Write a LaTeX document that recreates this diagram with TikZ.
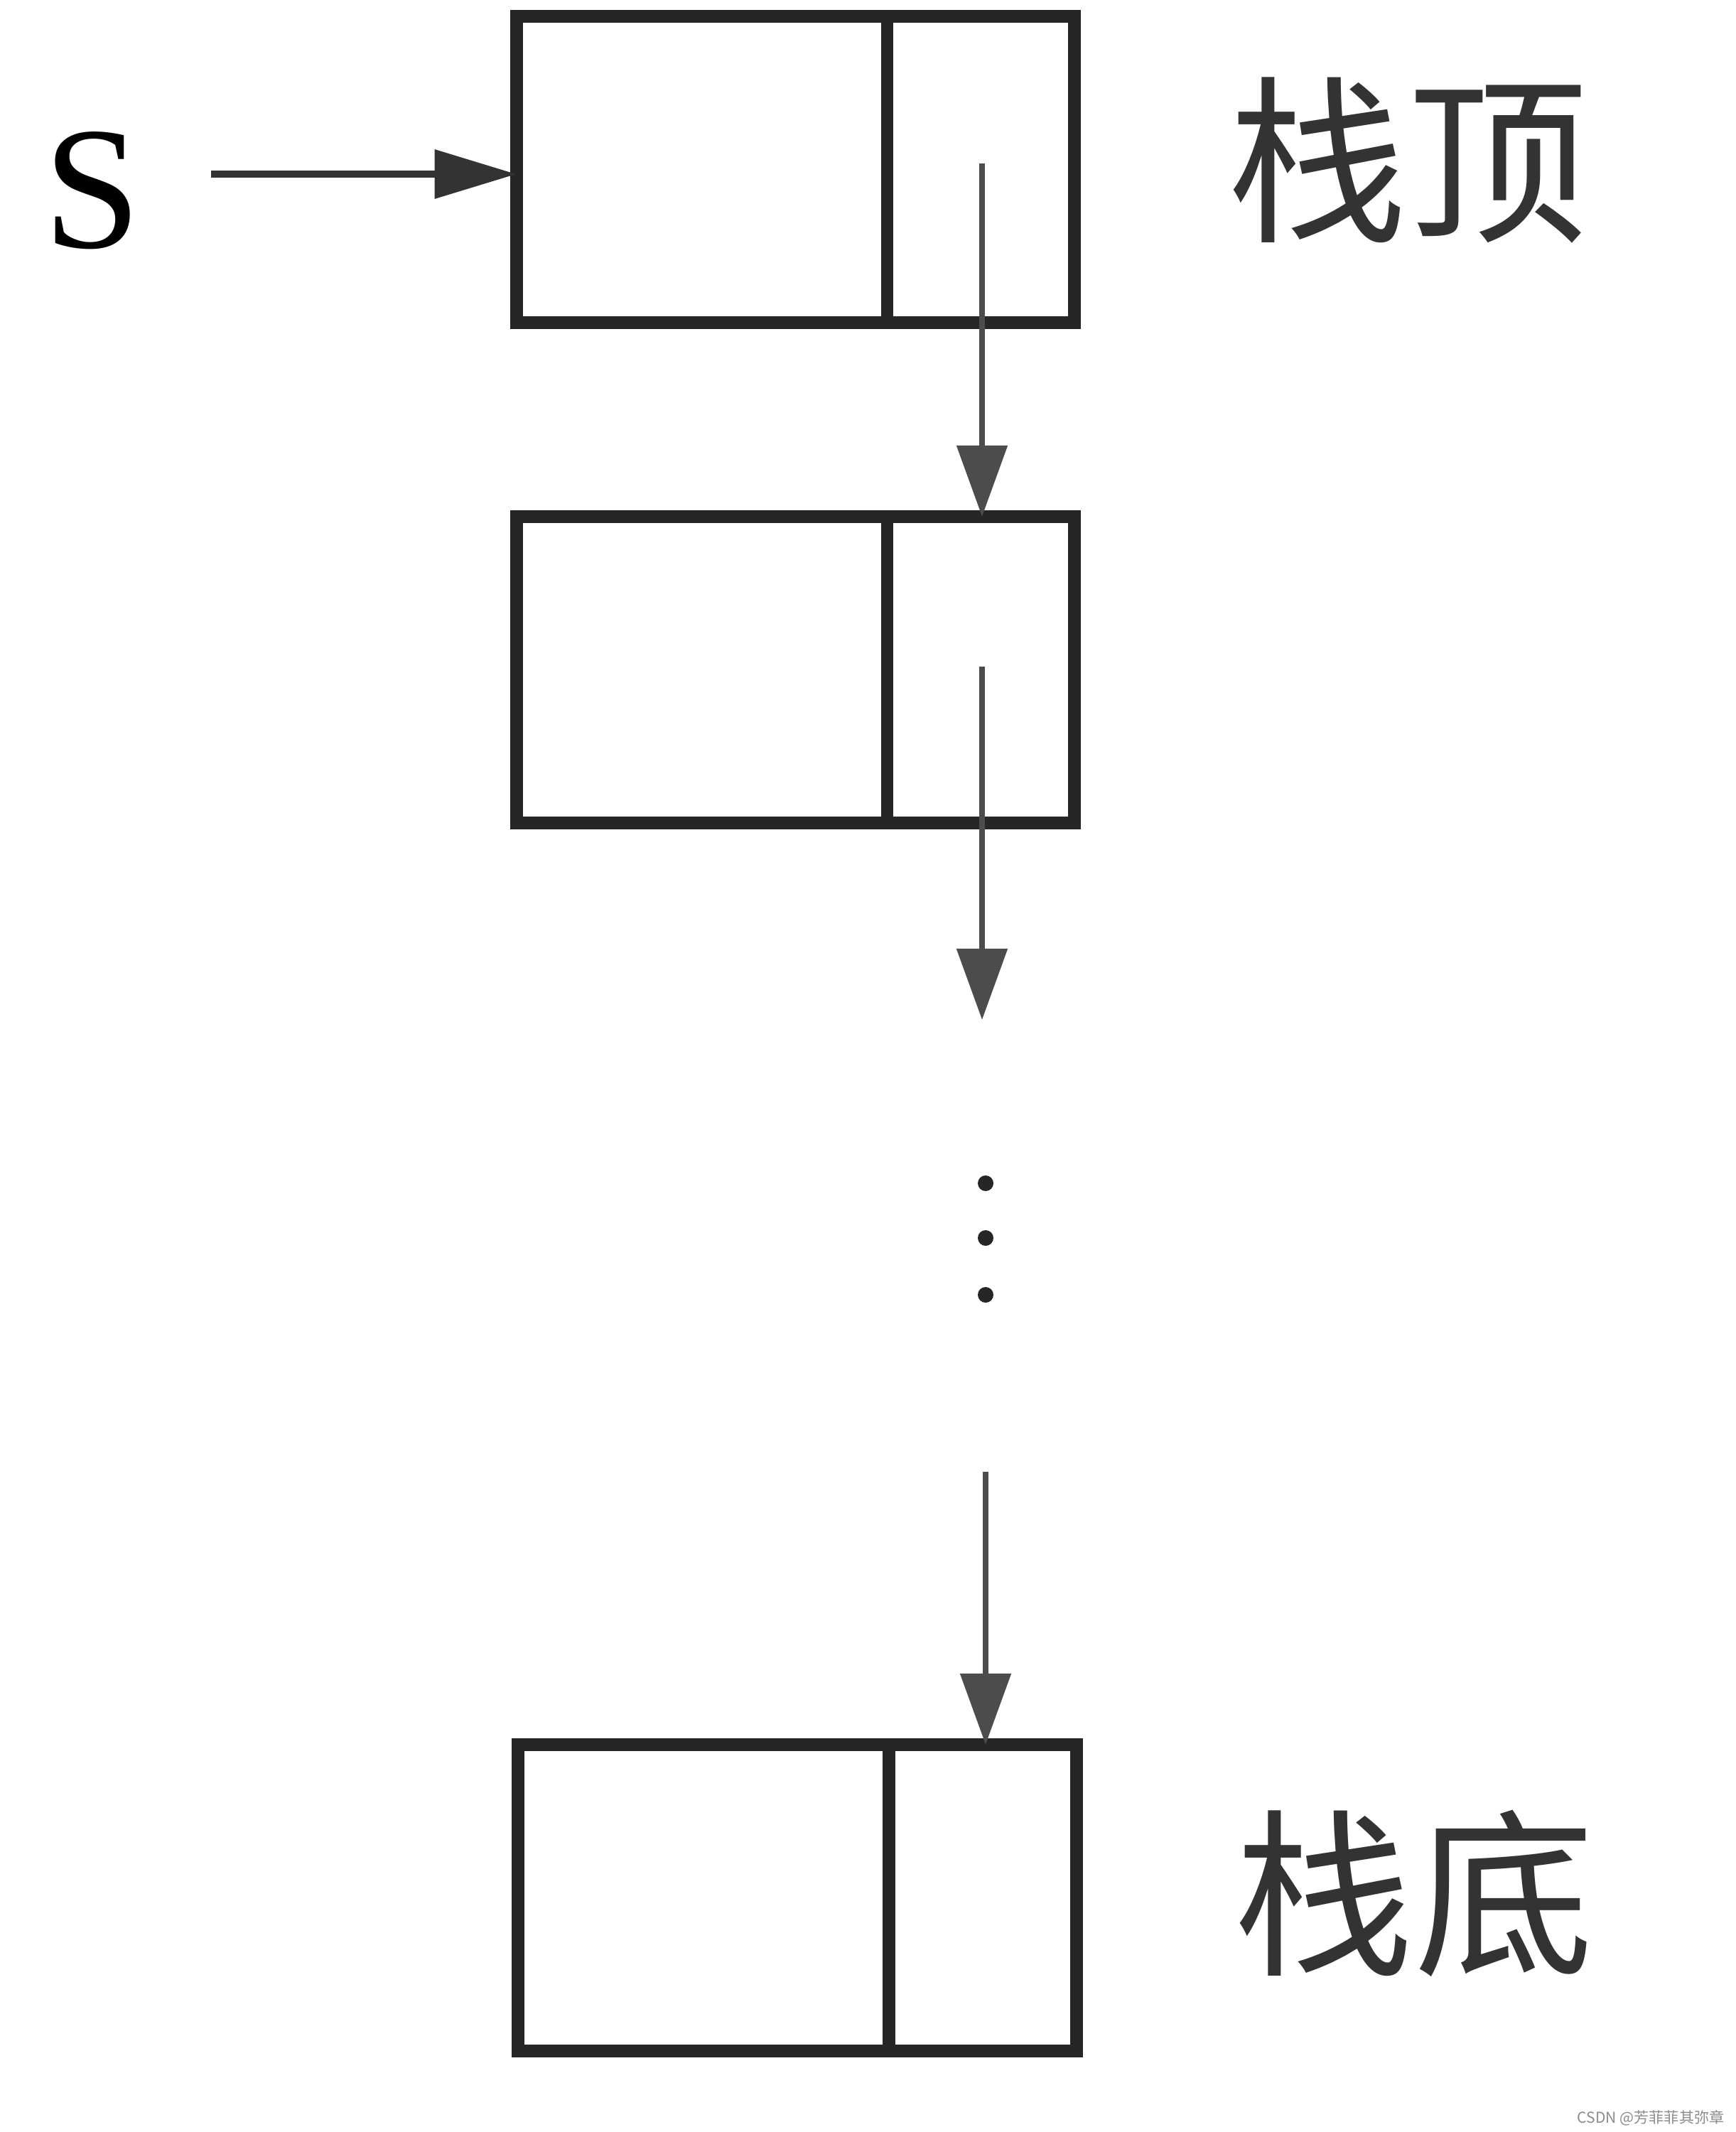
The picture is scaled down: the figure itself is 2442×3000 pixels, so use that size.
\documentclass[tikz,border=0pt]{standalone}
\usepackage{fontspec}
\setmainfont{Liberation Serif}
\newfontfamily\cjk{Noto Sans CJK SC}
\usetikzlibrary{arrows.meta,calc}
\begin{document}
\begin{tikzpicture}[x=0.01cm,y=-0.01cm,
  cell/.style={draw=black!85,line width=5pt,minimum width=7.85cm,minimum height=4.31cm,inner sep=0pt,outer sep=0pt},
  divider/.style={draw=black!85,line width=5pt},
  ptr/.style={draw=black!70,line width=2.4pt,-{Triangle[length=1cm,width=0.7cm]}},
  sptr/.style={draw=black!80,line width=2.8pt,-{Triangle[length=1.15cm,width=0.67cm]}},
  dotn/.style={circle,fill=black!85,minimum size=0.22cm,inner sep=0pt},
  lab/.style={font=\cjk\fontsize{72}{80}\selectfont,text=black!80,inner sep=0pt},
  wm/.style={font=\cjk\fontsize{6}{7}\selectfont,text=black!45,inner sep=0pt,anchor=east}]
\useasboundingbox[fill=white] (0,0) rectangle (2442,3000);
% boxes
\node[cell] (b1) at (1119.5,238.5) {};
\node[cell] (b2) at (1119.5,942.5) {};
\node[cell] (b3) at (1122,2670.5) {};
\foreach \b in {b1,b2,b3}{
  \draw[divider] ($(\b.north west)!0.664!(\b.north east)$) -- ($(\b.south west)!0.664!(\b.south east)$);
}
% S pointer
\node[font=\fontsize{70}{80}\selectfont,inner sep=0pt] (S) at (130,268) {S};
\coordinate (s0) at (297,245);
\draw[sptr] (s0) -- (s0 -| b1.west);
% next pointers
\coordinate (p1) at (1382,230);
\draw[ptr] (p1) -- (p1 |- b2.north);
\coordinate (p2) at (1382,938);
\coordinate (p2e) at (1382,1435);
\draw[ptr] (p2) -- (p2e);
\coordinate (p3) at (1387,2071);
\draw[ptr] (p3) -- (p3 |- b3.north);
% dots
\node[dotn] (d1) at (1387,1665) {};
\node[dotn] (d2) at (1387,1742) {};
\node[dotn] (d3) at (1387,1822) {};
% labels
\node[lab] (top) at (1981,226) {栈顶};
\node[lab] (bot) at (1990,2664) {栈底};
\node[wm] (mark) at (2427,2980) {CSDN @芳菲菲其弥章};
\end{tikzpicture}
\end{document}
